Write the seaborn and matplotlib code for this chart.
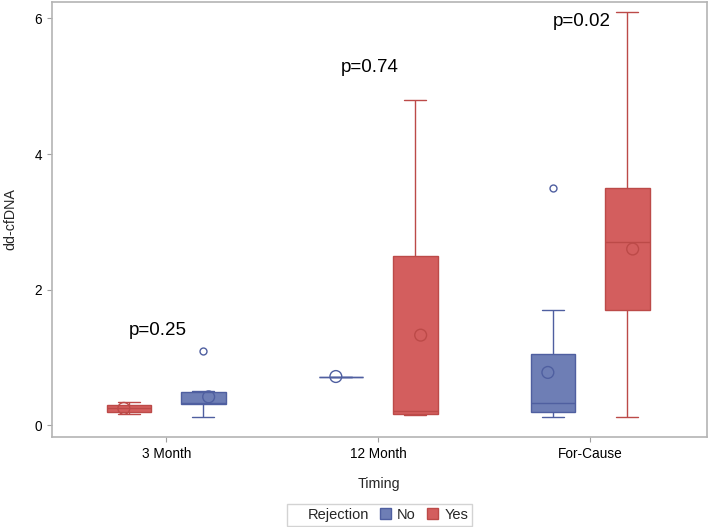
import matplotlib
matplotlib.use('Agg')
import pandas as pd
import seaborn as sns
from matplotlib import pyplot as plt
from matplotlib.patches import Patch

# categories on the x axis
TIMINGS = ['3 Month', '12 Month', 'For-Cause']

# values per group (min, q1, .., median, .., q3, max[, outlier])
M3_NO = [0.12, 0.25, 0.32, 0.325, 0.33, 0.40, 0.49, 0.51, 1.10]
M3_YES = [0.17, 0.18, 0.19, 0.22, 0.25, 0.28, 0.30, 0.32, 0.34]
M12_NO = [0.72, 0.72, 0.72]
M12_YES = [0.15, 0.16, 0.17, 0.19, 0.21, 1.2, 2.5, 3.6, 4.8]
FC_NO = [0.13, 0.17, 0.20, 0.26, 0.33, 0.70, 1.05, 1.70, 3.50]
FC_YES = [0.12, 1.0, 1.70, 2.2, 2.70, 3.1, 3.50, 4.8, 6.10]

# group means (circles)
MEANS_NO = [0.42, 0.72, 0.78]
MEANS_YES = [0.25, 1.33, 2.60]

P_VALUES = ['p=0.25', 'p=0.74', 'p=0.02']
P_Y = [1.40, 5.28, 5.95]

FILL = {'No': '#6E7EB5', 'Yes': '#D35E5E'}
LINE = {'No': '#4F5FA0', 'Yes': '#BC4A48'}

groups = {
    ('3 Month', 'No'): M3_NO, ('3 Month', 'Yes'): M3_YES,
    ('12 Month', 'No'): M12_NO, ('12 Month', 'Yes'): M12_YES,
    ('For-Cause', 'No'): FC_NO, ('For-Cause', 'Yes'): FC_YES,
}
rows = []
for (t, r), vals in groups.items():
    for v in vals:
        rows.append({'Timing': t, 'Rejection': r, 'value': v})
df = pd.DataFrame(rows)

means = pd.DataFrame({
    'Timing': TIMINGS * 2,
    'Rejection': ['No'] * 3 + ['Yes'] * 3,
    'value': MEANS_NO + MEANS_YES,
})

# SAS put Yes first in the 3 Month group
hueOrders = {'3 Month': ['Yes', 'No'], '12 Month': ['No', 'Yes'], 'For-Cause': ['No', 'Yes']}

sns.set_style('white')
plt.rcParams['font.family'] = ['Liberation Sans', 'DejaVu Sans']

fig = plt.figure(figsize=(7.09, 5.27), dpi=100)
ax = fig.add_axes([0.073, 0.171, 0.924, 0.825])

for t in TIMINGS:
    for r in hueOrders[t]:
        sub = df[(df.Timing == t) & (df.Rejection == r)]
        sns.boxplot(
            data=sub, x='Timing', y='value', hue='Rejection', order=TIMINGS,
            hue_order=hueOrders[t], palette=FILL, saturation=1, dodge=True,
            width=0.7, gap=0.4, whis=1.5, linecolor=LINE[r], linewidth=1.0,
            legend=False, ax=ax,
            flierprops=dict(marker='o', markersize=5, markerfacecolor='none',
                            markeredgecolor=LINE[r], markeredgewidth=1.0),
        )
        nColl = len(ax.collections)
        sns.stripplot(
            data=means[(means.Timing == t) & (means.Rejection == r)],
            x='Timing', y='value', hue='Rejection', order=TIMINGS,
            hue_order=hueOrders[t], palette=FILL, dodge=True, jitter=False,
            size=8.5, legend=False, ax=ax,
        )
        for coll in ax.collections[nColl:]:
            coll.set_facecolor('none')
            coll.set_edgecolor(LINE[r])
            coll.set_linewidth(1.0)
            coll.set_zorder(5)

for i, (txt, y) in enumerate(zip(P_VALUES, P_Y)):
    ax.text(i - 0.04, y, txt, ha='center', va='center', fontsize=13.5, color='black')

ax.set_xlim(-0.54, 2.55)
ax.set_ylim(-0.17, 6.24)
ax.set_yticks([0, 2, 4, 6])
ax.set_yticklabels(['0', '2', '4', '6'])

for side in ['top', 'right', 'left', 'bottom']:
    ax.spines[side].set_color('#B4B4B4')
    ax.spines[side].set_linewidth(1.2)
ax.tick_params(axis='both', which='both', direction='out', length=3.5, width=0.8,
               color='#A0A0A0', labelsize=9.8, labelcolor='black', left=True, bottom=True)

ax.set_xlabel('Timing', fontsize=10.3)
ax.set_ylabel('dd-cfDNA', fontsize=10.3)
ax.xaxis.set_label_coords(0.5, -0.092)
ax.yaxis.set_label_coords(-0.052, 0.5)

handles = [
    Patch(facecolor='none', edgecolor='none', label='Rejection'),
    Patch(facecolor=FILL['No'], edgecolor=LINE['No'], label='No'),
    Patch(facecolor=FILL['Yes'], edgecolor=LINE['Yes'], label='Yes'),
]
leg = fig.legend(handles=handles, ncol=3, loc='center', bbox_to_anchor=(0.535, 0.023),
                 fontsize=10.5, frameon=True, fancybox=False, handlelength=0.75,
                 handleheight=0.75, handletextpad=0.4, columnspacing=0.8,
                 borderpad=0.25, edgecolor='#C8C8C8')
leg.get_frame().set_linewidth(1.0)

plt.savefig('out.png', dpi=100)
